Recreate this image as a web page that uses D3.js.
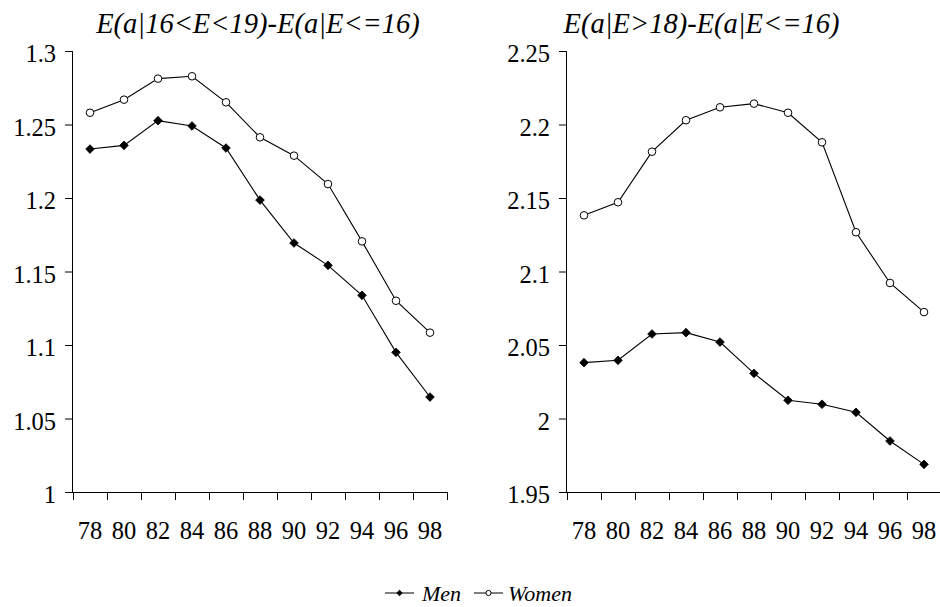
<!DOCTYPE html>
<html>
<head>
<meta charset="utf-8">
<script src="https://cdn.jsdelivr.net/npm/d3@7/dist/d3.min.js"></script>
<style>
  html, body { margin: 0; padding: 0; background: #fff; }
  svg { display: block; }
</style>
</head>
<body>
<svg id="chart" width="940" height="607" font-family="Liberation Serif"></svg>
<script>
// ---- data ----
const years = ["78", "80", "82", "84", "86", "88", "90", "92", "94", "96", "98"];

const leftTitle = "E(a|16<E<19)-E(a|E<=16)";
const leftMen   = [1.2333, 1.2358, 1.2526, 1.2490, 1.2340, 1.1986, 1.1694, 1.1542, 1.1338, 1.0950, 1.0646];
const leftWomen = [1.2580, 1.2669, 1.2812, 1.2828, 1.2651, 1.2413, 1.2288, 1.2095, 1.1705, 1.1301, 1.1084];
const leftTicks = [1, 1.05, 1.1, 1.15, 1.2, 1.25, 1.3];

const rightTitle = "E(a|E>18)-E(a|E<=16)";
const rightMen   = [2.0380, 2.0396, 2.0575, 2.0584, 2.0520, 2.0307, 2.0124, 2.0097, 2.0042, 1.9847, 1.9688];
const rightWomen = [2.1382, 2.1471, 2.1815, 2.2029, 2.2117, 2.2142, 2.2080, 2.1879, 2.1267, 2.0922, 2.0724];
const rightTicks = [1.95, 2, 2.05, 2.1, 2.15, 2.2, 2.25];

const seriesNames = ["Men", "Women"];

// ---- drawing ----
const FONT = "Liberation Serif";
const svg = d3.select("#chart");

function panel(cfg) {
  const g = svg.append("g");
  const x = d3.scaleBand().domain(years).range([cfg.x0, cfg.x1]).padding(0);
  const y = d3.scaleLinear().domain([cfg.ticks[0], cfg.ticks[cfg.ticks.length - 1]]).range([492, 51]);

  // y axis
  const ya = g.append("g").attr("transform", `translate(${cfg.x0},0)`)
    .call(d3.axisLeft(y).tickValues(cfg.ticks).tickSize(8).tickPadding(9).tickFormat(d => String(d)));
  ya.attr("font-family", FONT).attr("font-size", 24);
  ya.select(".domain").attr("d", `M-0.5,${y.range()[1]}V${y.range()[0]}`).attr("stroke", "#000");
  ya.selectAll(".tick line").attr("stroke", "#000");
  ya.selectAll(".tick text").attr("font-family", FONT).attr("font-size", 24.5).attr("dy", "0.43em").attr("fill", "#000");

  // x axis labels
  const xa = g.append("g").attr("transform", `translate(0,492)`)
    .call(d3.axisBottom(x).tickSize(0).tickPadding(30));
  xa.attr("font-family", FONT).attr("font-size", 24);
  xa.select(".domain").attr("stroke", "#000").attr("d", `M${cfg.x0},0.5H${cfg.x1}`);
  xa.selectAll(".tick text").attr("font-family", FONT).attr("font-size", 24.5).attr("fill", "#000");

  // x boundary ticks
  const bounds = years.map(d => x(d)).concat([x.range()[1]]);
  g.append("g").selectAll("line").data(bounds).join("line")
    .attr("x1", d => Math.round(d) + 0.5).attr("x2", d => Math.round(d) + 0.5)
    .attr("y1", 492).attr("y2", 500).attr("stroke", "#000");

  const cx = d => x(d) + x.bandwidth() / 2;
  const line = d3.line().x((v, i) => cx(years[i])).y(v => y(v));

  // lines
  [cfg.men, cfg.women].forEach(s => {
    g.append("path").datum(s).attr("d", line).attr("fill", "none")
      .attr("stroke", "#000").attr("stroke-width", 1.1);
  });

  // women markers
  g.append("g").selectAll("circle").data(cfg.women).join("circle")
    .attr("cx", (v, i) => cx(years[i])).attr("cy", v => y(v)).attr("r", 3.8)
    .attr("fill", "#fff").attr("stroke", "#000").attr("stroke-width", 1);

  // men markers
  const dia = d3.symbol().type(d3.symbolDiamond2).size(48);
  g.append("g").selectAll("path").data(cfg.men).join("path")
    .attr("transform", (v, i) => `translate(${cx(years[i])},${y(v)})`)
    .attr("d", dia).attr("fill", "#000").attr("stroke", "#000").attr("stroke-width", 0.8);

  // title
  g.append("text").attr("x", cfg.tx).attr("y", 33).attr("text-anchor", "middle")
    .attr("font-family", FONT).attr("font-size", 28.5).attr("font-style", "italic").text(cfg.title);
}

panel({ x0: 73, x1: 447, ticks: leftTicks, men: leftMen, women: leftWomen, title: leftTitle, tx: 258 });
panel({ x0: 567, x1: 941, ticks: rightTicks, men: rightMen, women: rightWomen, title: rightTitle, tx: 701.5 });

// legend
const lg = svg.append("g");
const legendItems = [
  { name: seriesNames[0], x: 385, tx: 422, kind: "men" },
  { name: seriesNames[1], x: 474, tx: 508, kind: "women" }
];
legendItems.forEach(it => {
  lg.append("line").attr("x1", it.x).attr("x2", it.x + 29).attr("y1", 593).attr("y2", 593)
    .attr("stroke", "#000").attr("stroke-width", 1);
  if (it.kind === "men") {
    lg.append("path").attr("transform", `translate(${it.x + 14.5},593)`)
      .attr("d", d3.symbol().type(d3.symbolDiamond2).size(26)).attr("fill", "#000");
  } else {
    lg.append("circle").attr("cx", it.x + 14.5).attr("cy", 593).attr("r", 2.6)
      .attr("fill", "#fff").attr("stroke", "#000");
  }
  lg.append("text").attr("x", it.tx).attr("y", 601).attr("font-family", FONT).attr("font-size", 22)
    .attr("font-style", "italic").text(it.name);
});
</script>
</body>
</html>
